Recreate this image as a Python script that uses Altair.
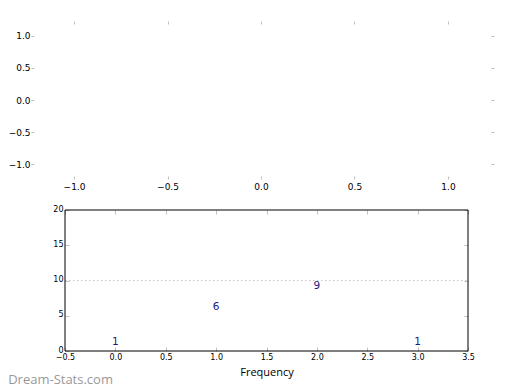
import altair as alt
import pandas as pd

# ---- data ----
top_ticks = [-1.0, -0.5, 0.0, 0.5, 1.0]
top_x_domain = [-1.214, 1.230]
top_y_domain = [-1.187, 1.187]

categories = [0, 1, 2, 3]
frequencies = [1, 6, 9, 1]
x_ticks = [-0.5, 0.0, 0.5, 1.0, 1.5, 2.0, 2.5, 3.0, 3.5]
y_ticks = [0, 5, 10, 15, 20]
ref_level = [10]
x_domain = [-0.5, 3.5]
y_domain = [0, 20]
x_title = "Frequency"
watermark = "Dream-Stats.com"

TICK = "#c0c0c0"
NAVY = "#1a1a80"

# ---- top (empty) panel ----
top_df = pd.DataFrame({"x": [0.0], "y": [0.0]})
tsx = alt.Scale(domain=top_x_domain, nice=False, zero=False)
tsy = alt.Scale(domain=top_y_domain, nice=False, zero=False)

tick_common = dict(tickColor=TICK, tickWidth=1, domain=False, grid=False, title=None)

top_left = alt.Axis(orient="left", values=top_ticks, format=".1f", tickSize=3,
                    labelFontSize=9, labelPadding=1, labelColor="black",
                    labelFont="DejaVu Sans", minExtent=25, maxExtent=25, **tick_common)
top_bottom = alt.Axis(orient="bottom", values=top_ticks, format=".1f", tickSize=3,
                      labelFontSize=9, labelPadding=3, labelColor="black",
                      labelFont="DejaVu Sans", labelFlush=False, labelOverlap=False,
                      **tick_common)
top_top = alt.Axis(orient="top", values=top_ticks, tickSize=3, labels=False, **tick_common)
top_right = alt.Axis(orient="right", values=top_ticks, tickSize=3, labels=False, **tick_common)

tbase = alt.Chart(top_df).mark_point(opacity=0)
t1 = tbase.encode(x=alt.X("x:Q", scale=tsx, axis=top_bottom),
                  y=alt.Y("y:Q", scale=tsy, axis=top_left))
t2 = tbase.encode(x=alt.X("x:Q", scale=tsx, axis=top_top),
                  y=alt.Y("y:Q", scale=tsy, axis=top_right))
top = (alt.layer(t1, t2)
       .resolve_axis(x="independent", y="independent")
       .properties(width=457, height=152, view=alt.ViewBackground(strokeOpacity=0)))

# ---- bottom panel ----
# the two panels share their left origin in the layout, so the bottom panel's
# frame starts further right through its x range
freq_df = pd.DataFrame({"category": categories, "frequency": frequencies})
frame_df = pd.DataFrame({"x0": [x_domain[0]], "x1": [x_domain[1]],
                         "y0": [y_domain[0]], "y1": [y_domain[1]],
                         "level": ref_level})
bsx = alt.Scale(domain=x_domain, nice=False, zero=False, range=[31, 434])
bsy = alt.Scale(domain=y_domain, nice=False, zero=False)

b_left = alt.Axis(orient="left", values=y_ticks, format="d", labelFontSize=8,
                  labelPadding=2, labelColor="black", labelFont="DejaVu Sans",
                  labelOffset=-1, tickSize=4, offset=-35, **tick_common)
b_bottom = alt.Axis(orient="bottom", values=x_ticks, format=".1f", labelFontSize=8,
                    labelPadding=2, labelColor="black", labelFont="DejaVu Sans",
                    labelFlush=False, labelOverlap=False,
                    title=x_title, titleFont="Open Sans", titleFontSize=11,
                    titleFontWeight="normal", titleColor="black", titlePadding=5,
                    tickSize=4, offset=-4, tickColor=TICK, tickWidth=1,
                    domain=False, grid=False)
b_top = alt.Axis(orient="top", values=x_ticks, labels=False, tickSize=4, offset=-4, **tick_common)
b_right = alt.Axis(orient="right", values=y_ticks, labels=False, tickSize=4, offset=-4, **tick_common)

frame = (alt.Chart(frame_df)
         .mark_rect(fillOpacity=0, stroke="black", strokeWidth=1)
         .encode(x=alt.X("x0:Q", scale=bsx, axis=None), x2="x1:Q",
                 y=alt.Y("y0:Q", scale=bsy, axis=None), y2="y1:Q"))
rule = (alt.Chart(frame_df)
        .mark_rule(color="#c4c4c4", strokeDash=[1.5, 2.5], strokeWidth=1)
        .encode(x=alt.X("x0:Q", scale=bsx, axis=None), x2="x1:Q",
                y=alt.Y("level:Q", scale=bsy, axis=None)))
txt = (alt.Chart(freq_df)
       .mark_text(baseline="middle", dy=-1.5, fontSize=10.5, color=NAVY, font="DejaVu Sans")
       .encode(x=alt.X("category:Q", scale=bsx, axis=b_bottom),
               y=alt.Y("frequency:Q", scale=bsy, axis=b_left),
               text=alt.Text("frequency:Q")))
tk = (alt.Chart(freq_df).mark_point(opacity=0)
      .encode(x=alt.X("category:Q", scale=bsx, axis=b_top),
              y=alt.Y("frequency:Q", scale=bsy, axis=b_right)))
bottom = (alt.layer(rule, frame, txt, tk)
          .resolve_axis(x="independent", y="independent")
          .properties(width=434, height=141, view=alt.ViewBackground(strokeOpacity=0)))

chart = alt.vconcat(top, bottom, spacing=14).properties(
    padding={"left": 0, "top": 12, "right": 0, "bottom": 2},
    title=alt.TitleParams(watermark, orient="bottom", anchor="start", fontSize=13,
                          font="Open Sans", color="#999999", fontWeight="normal",
                          offset=-3),
)

chart.save("out.html", embed_options={"renderer": "svg", "actions": False})
